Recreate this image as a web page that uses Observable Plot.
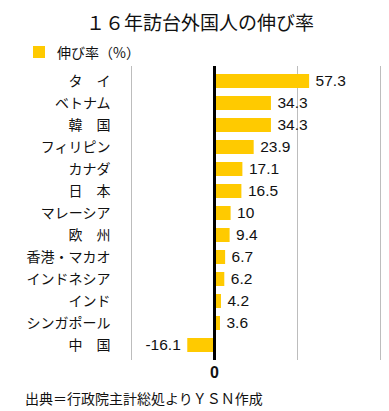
<!DOCTYPE html>
<html>
<head>
<meta charset="utf-8">
<script src="https://cdn.jsdelivr.net/npm/d3@7"></script>
<script src="https://cdn.jsdelivr.net/npm/@observablehq/plot@0.6"></script>
<style>
  body { margin: 0; background: #fff; }
  #wrap { position: relative; width: 389px; height: 411px; overflow: hidden; font-family: "Noto Sans CJK JP", sans-serif; }
  #wrap svg { position: absolute; left: 0; top: 0; }
  .t { position: absolute; white-space: nowrap; color: #111; }
</style>
</head>
<body>
<div id="wrap">
  <div class="t" id="title" style="left:0;width:400px;text-align:center;top:8px;font-size:19px;">１６年訪台外国人の伸び率</div>
  <div class="t" style="left:33px;top:46px;width:12px;height:12px;background:#FFCA00;"></div>
  <div class="t" style="left:57px;top:42px;font-size:14px;">伸び率（%）</div>
  <div class="t" style="left:25px;top:388px;font-size:14px;">出典＝行政院主計総処よりＹＳＮ作成</div>
</div>
<script>
const categories = ["タ　イ", "ベトナム", "韓　国", "フィリピン", "カナダ", "日　本", "マレーシア", "欧　州", "香港・マカオ", "インドネシア", "インド", "シンガポール", "中　国"];
const values = [57.3, 34.3, 34.3, 23.9, 17.1, 16.5, 10, 9.4, 6.7, 6.2, 4.2, 3.6, -16.1];
const gridValues = [-50, 50, 100];
const zeroTick = [0];

const data = categories.map((c, i) => ({ name: c, value: values[i] }));
const pos = data.filter(d => d.value >= 0);
const neg = data.filter(d => d.value < 0);

const chart = Plot.plot({
  width: 389,
  height: 411,
  marginTop: 66,
  marginBottom: 51,
  marginLeft: 131,
  marginRight: 9,
  style: { fontFamily: "'Noto Sans CJK JP', sans-serif", background: "transparent" },
  x: { domain: [-50, 100], axis: null },
  y: { domain: categories, paddingInner: 0.38, paddingOuter: 0.19, axis: null },
  marks: [
    Plot.ruleX(gridValues, { stroke: "#bdbdbd", strokeWidth: 1 }),
    Plot.barX(data, { x: "value", y: "name", fill: "#FFCA00" }),
    Plot.ruleX(zeroTick, { stroke: "#000", strokeWidth: 3 }),
    Plot.axisY({ anchor: "left", tickSize: 0, tickPadding: 21, fontSize: 14, fill: "#111", label: null }),
    Plot.axisX(zeroTick, { anchor: "bottom", tickSize: 0, tickPadding: 6, fontSize: 16, fontWeight: "bold", fontFamily: "'Liberation Sans', Arial, sans-serif", fill: "#111", label: null }),
    Plot.text(pos, { x: "value", y: "name", text: d => String(d.value), textAnchor: "start", dx: 6, fontSize: 15.5, fontFamily: "'Liberation Sans', Arial, sans-serif", fill: "#111" }),
    Plot.text(neg, { x: "value", y: "name", text: d => String(d.value), textAnchor: "end", dx: -7, fontSize: 15.5, fontFamily: "'Liberation Sans', Arial, sans-serif", fill: "#111" })
  ]
});
document.getElementById("wrap").prepend(chart);
</script>
</body>
</html>
